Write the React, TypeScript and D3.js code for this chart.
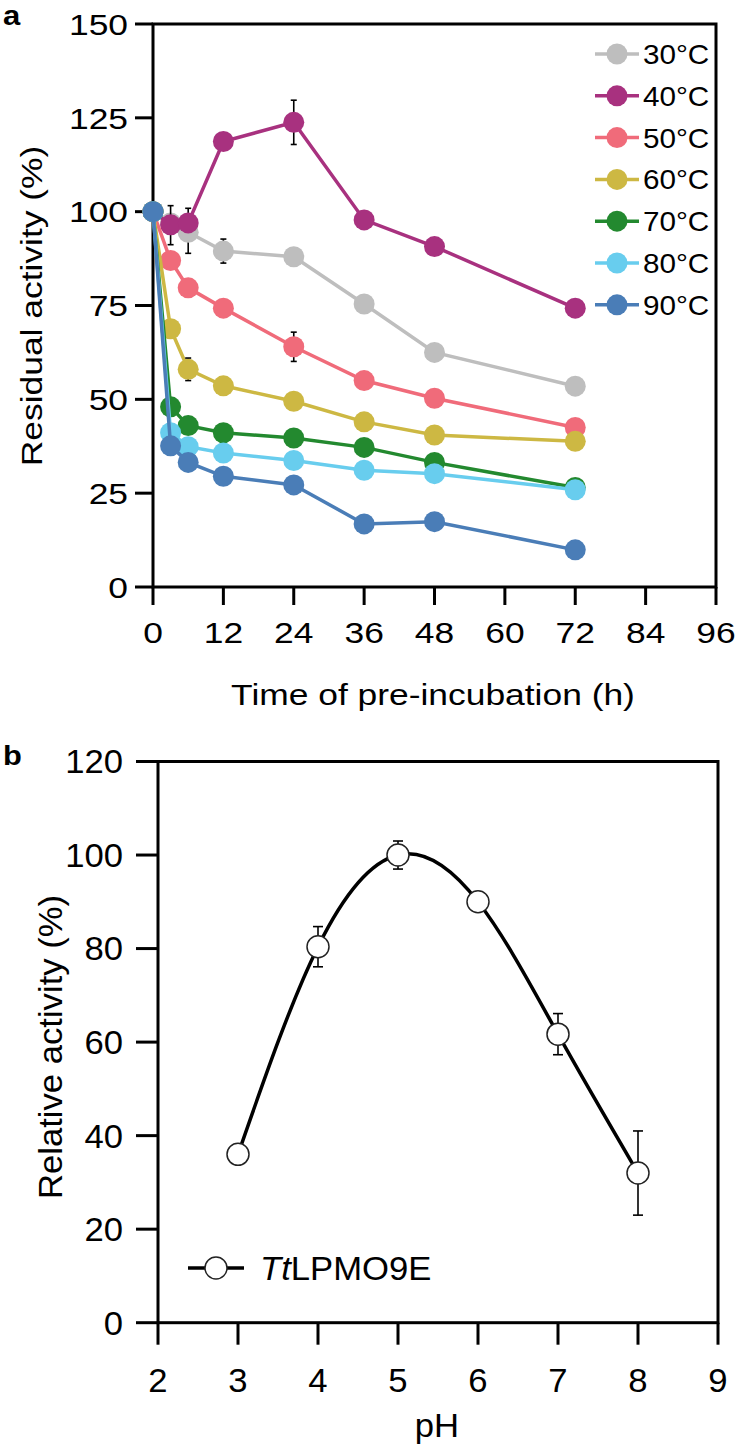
import React from "react";
import * as d3 from "d3";

// ---------- Panel a data ----------
const times = [0, 3, 6, 12, 24, 36, 48, 72];
const seriesNames = ["30°C", "40°C", "50°C", "60°C", "70°C", "80°C", "90°C"];
const seriesColors = ["#bebebe", "#a8317f", "#f06b7a", "#cdb843", "#23892f", "#68cdee", "#4a7db7"];
const s30 = [100, 97, 94.5, 89.5, 88, 75.4, 62.5, 53.5];
const s40 = [100, 96.5, 97, 118.7, 123.8, 97.8, 90.7, 74.3];
const s50 = [100, 87, 79.7, 74.3, 64, 55, 50.3, 42.5];
const s60 = [100, 68.8, 58, 53.6, 49.5, 44, 40.5, 38.8];
const s70 = [100, 48, 43, 41.1, 39.7, 37.2, 33.2, 26.5];
const s80 = [100, 41.1, 37.4, 35.7, 33.7, 31.1, 30.2, 25.9];
const s90 = [100, 37.6, 33.2, 29.5, 27.2, 16.8, 17.4, 9.9];
const seriesValues = [s30, s40, s50, s60, s70, s80, s90];
// error bars: [series index, time, value, error]
const errA: [number, number, number, number][] = [
  [1, 3, 96.4, 5.2],
  [0, 6, 94.9, 6.0],
  [0, 12, 89.5, 3.2],
  [1, 24, 123.8, 5.9],
  [2, 24, 64, 3.9],
  [3, 6, 58, 3.0],
];
const xTicksA = [0, 12, 24, 36, 48, 60, 72, 84, 96];
const yTicksA = [0, 25, 50, 75, 100, 125, 150];

// ---------- Panel b data ----------
const phValues = [3, 4, 5, 6, 7, 8];
const relActivity = [36, 80.4, 100, 90, 61.7, 32];
const relError = [0, 4.3, 3, 0, 4.4, 9];
const xTicksB = [2, 3, 4, 5, 6, 7, 8, 9];
const yTicksB = [0, 20, 40, 60, 80, 100, 120];

const FONT = "'Liberation Sans', Arial, Helvetica, sans-serif";

type TProps = {
  x: number;
  y: number;
  size: number;
  sx?: number;
  rotate?: number;
  anchor?: "start" | "middle" | "end";
  dy?: string;
  weight?: string;
  children: React.ReactNode;
};
function T({ x, y, size, sx = 1, rotate = 0, anchor = "start", dy, weight, children }: TProps) {
  return (
    <g transform={`translate(${x},${y}) rotate(${rotate}) scale(${sx},1)`}>
      <text x={0} y={0} dy={dy} fontSize={size} textAnchor={anchor} fontWeight={weight}>
        {children}
      </text>
    </g>
  );
}

export default function App() {
  const xA = d3.scaleLinear().domain([0, 96]).range([153, 716]);
  const yA = d3.scaleLinear().domain([0, 150]).range([587, 24]);
  const xB = d3.scaleLinear().domain([2, 9]).range([158, 718]);
  const yB = d3.scaleLinear().domain([0, 120]).range([1322.7, 761.5]);

  const lineA = d3
    .line<[number, number]>()
    .x((d) => xA(d[0]))
    .y((d) => yA(d[1]));
  const lineB = d3
    .line<[number, number]>()
    .x((d) => xB(d[0]))
    .y((d) => yB(d[1]))
    .curve(d3.curveNatural);

  const axisW = 3;
  const fsA = 30;
  const sxA = 1.18;
  const fsB = 33;
  const sxB = 1.05;

  const legendX = 617;
  const legendY0 = 54;
  const legendDy = 41.8;

  return (
    <svg
      width={737}
      height={1456}
      style={{ position: "absolute", left: 0, top: 0, background: "#fff" }}
      fontFamily={FONT}
    >
      <rect x={0} y={0} width={737} height={1456} fill="#fff" />
      {/* ================= Panel a ================= */}
      <T x={3} y={25} size={27} sx={1.15} weight="bold">a</T>
      <rect
        x={xA(0)}
        y={yA(150)}
        width={xA(96) - xA(0)}
        height={yA(0) - yA(150)}
        fill="none"
        stroke="#000"
        strokeWidth={axisW}
      />
      {yTicksA.map((t) => (
        <g key={"ya" + t}>
          <line x1={xA(0) - 18} x2={xA(0)} y1={yA(t)} y2={yA(t)} stroke="#000" strokeWidth={axisW} />
          <T x={128} y={yA(t)} dy="0.36em" anchor="end" size={fsA} sx={sxA}>
            {t}
          </T>
        </g>
      ))}
      {xTicksA.map((t) => (
        <g key={"xa" + t}>
          <line x1={xA(t)} x2={xA(t)} y1={yA(0)} y2={yA(0) + 18} stroke="#000" strokeWidth={axisW} />
          <T x={xA(t)} y={643} anchor="middle" size={fsA} sx={sxA}>
            {t}
          </T>
        </g>
      ))}
      <T x={433} y={705} anchor="middle" size={fsA} sx={sxA}>
        Time of pre-incubation (h)
      </T>
      <T x={42} y={306} rotate={-90} anchor="middle" size={fsA} sx={sxA}>
        Residual activity (%)
      </T>
      {/* series */}
      {seriesValues.map((vals, i) => (
        <g key={"s" + i}>
          <path
            d={lineA(times.map((t, j) => [t, vals[j]]) as [number, number][]) || ""}
            fill="none"
            stroke={seriesColors[i]}
            strokeWidth={3.5}
          />
          {errA
            .filter((e) => e[0] === i)
            .map((e, k) => (
              <g key={"e" + k} stroke="#000" strokeWidth={1.6}>
                <line x1={xA(e[1])} x2={xA(e[1])} y1={yA(e[2] - e[3])} y2={yA(e[2] + e[3])} />
                <line x1={xA(e[1]) - 3} x2={xA(e[1]) + 3} y1={yA(e[2] - e[3])} y2={yA(e[2] - e[3])} />
                <line x1={xA(e[1]) - 3} x2={xA(e[1]) + 3} y1={yA(e[2] + e[3])} y2={yA(e[2] + e[3])} />
              </g>
            ))}
          {times.map((t, j) => (
            <circle key={j} cx={xA(t)} cy={yA(vals[j])} r={10.5} fill={seriesColors[i]} />
          ))}
        </g>
      ))}
      {/* legend a */}
      {seriesNames.map((n, i) => (
        <g key={"lg" + i}>
          <line
            x1={legendX - 22}
            x2={legendX + 22}
            y1={legendY0 + i * legendDy}
            y2={legendY0 + i * legendDy}
            stroke={seriesColors[i]}
            strokeWidth={3.5}
          />
          <circle cx={legendX} cy={legendY0 + i * legendDy} r={10.5} fill={seriesColors[i]} />
          <T x={643} y={legendY0 + i * legendDy} dy="0.36em" size={28} sx={1.06}>
            {n}
          </T>
        </g>
      ))}

      {/* ================= Panel b ================= */}
      <T x={3} y={765} size={28} sx={1.1} weight="bold">b</T>
      <rect
        x={xB(2)}
        y={yB(120)}
        width={xB(9) - xB(2)}
        height={yB(0) - yB(120)}
        fill="none"
        stroke="#000"
        strokeWidth={axisW}
      />
      {yTicksB.map((t) => (
        <g key={"yb" + t}>
          <line x1={xB(2) - 22} x2={xB(2)} y1={yB(t)} y2={yB(t)} stroke="#000" strokeWidth={axisW} />
          <T x={123} y={yB(t)} dy="0.36em" anchor="end" size={fsB} sx={sxB}>
            {t}
          </T>
        </g>
      ))}
      {xTicksB.map((t) => (
        <g key={"xb" + t}>
          <line x1={xB(t)} x2={xB(t)} y1={yB(0)} y2={yB(0) + 22} stroke="#000" strokeWidth={axisW} />
          <T x={xB(t)} y={1392} anchor="middle" size={fsB} sx={sxB}>
            {t}
          </T>
        </g>
      ))}
      <T x={437} y={1437} anchor="middle" size={fsB} sx={sxB}>
        pH
      </T>
      <T x={62} y={1047} rotate={-90} anchor="middle" size={fsB} sx={sxB}>
        Relative activity (%)
      </T>
      <path
        d={lineB(phValues.map((p, j) => [p, relActivity[j]]) as [number, number][]) || ""}
        fill="none"
        stroke="#000"
        strokeWidth={3.5}
      />
      {phValues.map((p, j) =>
        relError[j] > 0 ? (
          <g key={"eb" + j} stroke="#000" strokeWidth={1.6}>
            <line x1={xB(p)} x2={xB(p)} y1={yB(relActivity[j] - relError[j])} y2={yB(relActivity[j] + relError[j])} />
            <line x1={xB(p) - 5} x2={xB(p) + 5} y1={yB(relActivity[j] - relError[j])} y2={yB(relActivity[j] - relError[j])} />
            <line x1={xB(p) - 5} x2={xB(p) + 5} y1={yB(relActivity[j] + relError[j])} y2={yB(relActivity[j] + relError[j])} />
          </g>
        ) : null
      )}
      {phValues.map((p, j) => (
        <circle key={"cb" + j} cx={xB(p)} cy={yB(relActivity[j])} r={11} fill="#fff" stroke="#222" strokeWidth={1.5} />
      ))}
      {/* legend b */}
      <line x1={188} x2={244} y1={1268} y2={1268} stroke="#000" strokeWidth={3.5} />
      <circle cx={216} cy={1268} r={11} fill="#fff" stroke="#222" strokeWidth={1.5} />
      <T x={260} y={1268} dy="0.36em" size={fsB} sx={sxB}>
        <tspan fontStyle="italic">Tt</tspan>LPMO9E
      </T>
    </svg>
  );
}
